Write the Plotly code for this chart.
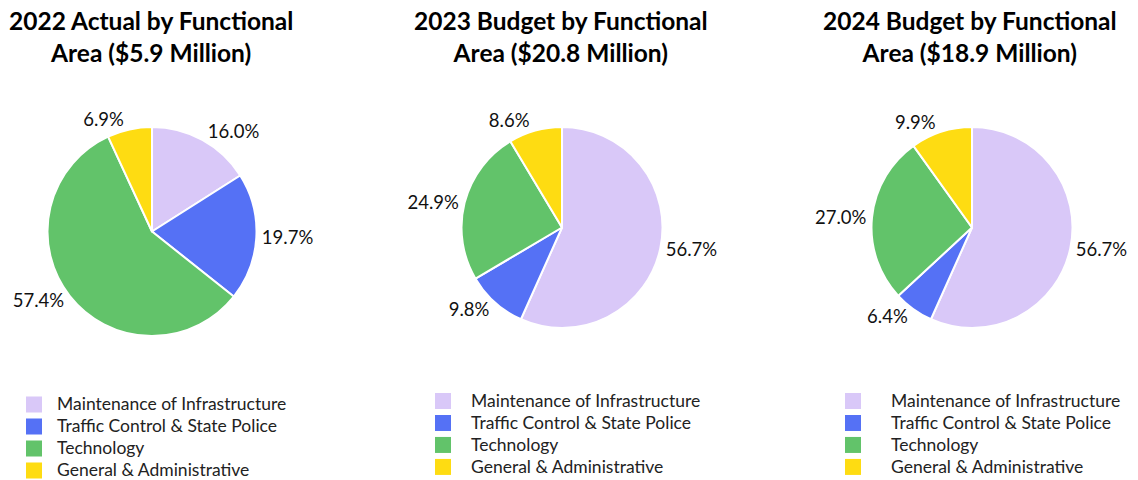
import plotly.graph_objects as go

W, H = 1138, 480

categories = [
    "Maintenance of Infrastructure",
    "Traffic Control & State Police",
    "Technology",
    "General & Administrative",
]
colors = ["#D9C8F8", "#5571F5", "#62C36A", "#FEDC12"]

titles = [
    "2022 Actual by Functional<br>Area ($5.9 Million)",
    "2023 Budget by Functional<br>Area ($20.8 Million)",
    "2024 Budget by Functional<br>Area ($18.9 Million)",
]
share_2022 = [16.0, 19.7, 57.4, 6.9]
share_2023 = [56.7, 9.8, 24.9, 8.6]
share_2024 = [56.7, 6.4, 27.0, 9.9]

FONT = "Lato"

# pixel boxes for each pie: (left, right, top, bottom)
pie_boxes = [(47, 257, 127, 336), (461, 663, 127, 328), (871, 1073, 127, 328)]
title_centers = [151, 561, 970]
# top-left corner of each legend box (px) and swatch column width
legend_pos = [(11, 388.5), (415, 385), (815, 385)]
legend_itemwidth = [36, 46, 66]


def px_x(v):
    return v / W


def px_y(v):
    return 1 - v / H


fig = go.Figure()
series = [share_2022, share_2023, share_2024]
legend_ids = ["legend", "legend2", "legend3"]

for i, vals in enumerate(series):
    l, r, t, b = pie_boxes[i]
    fig.add_trace(go.Pie(
        labels=categories,
        values=vals,
        sort=False,
        direction="clockwise",
        rotation=0,
        marker=dict(colors=colors, line=dict(color="white", width=2)),
        textposition="outside",
        texttemplate="%{value:.1f}%",
        textfont=dict(family=FONT, size=18.5, color="#111111"),
        domain=dict(x=[px_x(l), px_x(r)], y=[px_y(b), px_y(t)]),
        showlegend=False,
        hoverinfo="label+percent",
    ))
    fig.add_annotation(
        text="<b>" + titles[i] + "</b>",
        x=px_x(title_centers[i]), y=px_y(4),
        xref="paper", yref="paper", xanchor="center", yanchor="top",
        showarrow=False, align="center",
        font=dict(family=FONT, size=24.5, color="#000000"),
    )
    # legend entries for this pie (square swatches)
    for cat, col in zip(categories, colors):
        fig.add_trace(go.Scatter(
            x=[None], y=[None], mode="markers",
            name='<span style="font-size:17.5px">' + cat + "</span>",
            marker=dict(symbol="square", size=16, color=col),
            legend=legend_ids[i], showlegend=True, hoverinfo="skip",
        ))

layout_legends = {}
for i, lid in enumerate(legend_ids):
    lx, ly = legend_pos[i]
    layout_legends[lid] = dict(
        x=px_x(lx), y=px_y(ly),
        xanchor="left", yanchor="top", xref="paper", yref="paper",
        font=dict(family=FONT, size=14.6, color="#222222"),
        bgcolor="rgba(0,0,0,0)", borderwidth=0, traceorder="normal",
        itemwidth=legend_itemwidth[i],
    )

fig.update_layout(
    width=W, height=H,
    margin=dict(l=0, r=0, t=0, b=0, autoexpand=False),
    paper_bgcolor="white", plot_bgcolor="white",
    xaxis=dict(visible=False), yaxis=dict(visible=False),
    **layout_legends,
)

fig.write_html("out.html")
